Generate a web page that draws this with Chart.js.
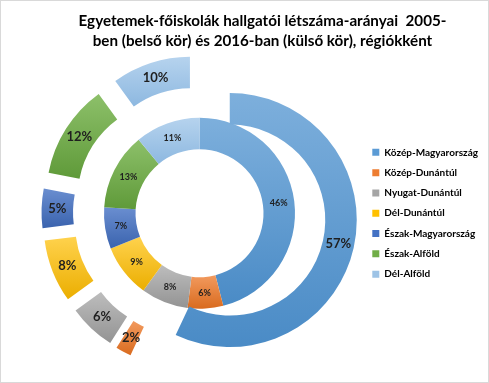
<!DOCTYPE html>
<html><head><meta charset="utf-8">
<script src="https://cdn.jsdelivr.net/npm/chart.js@4/dist/chart.umd.min.js"></script>
<style>
html,body{margin:0;padding:0;background:#fff;}
#wrap{position:relative;width:489px;height:383px;box-sizing:border-box;border:1px solid #d9d9d9;}
canvas{display:block;}
</style></head><body>
<div id="wrap"><canvas id="c" width="487" height="381"></canvas></div>
<script>
const regions = ['Közép-Magyarország','Közép-Dunántúl','Nyugat-Dunántúl','Dél-Dunántúl','Észak-Magyarország','Észak-Alföld','Dél-Alföld'];
const share2016 = [57, 2, 6, 8, 5, 12, 10];
const share2005 = [46, 6, 8, 9, 7, 13, 11];
const titleLines = ['Egyetemek-főiskolák hallgatói létszáma-arányai  2005-', 'ben (belső kör) és 2016-ban (külső kör), régiókként'];
const baseColors = ['#5B9BD5','#ED7D31','#A5A5A5','#FFC000','#4472C4','#70AD47','#9DC3E6'];
const topColors = ['#7DAFDC','#F29A5E','#BDBDBD','#FFD24D','#6A8ED0','#8DC06A','#B6D3EE'];
const bottomColors = ['#4A8BC6','#D96B1F','#939393','#EBAE00','#3A63AE','#5F9A39','#8DB8E0'];

const RADIUS = 127, CUTOUT = 64 / 127, EXPLODE = 31;

function gradFill(ctx) {
  const chart = ctx.chart, ca = chart.chartArea;
  const i = ctx.dataIndex;
  if (!ca || i === undefined) return baseColors[i || 0];
  const di = ctx.datasetIndex;
  const vals = chart.data.datasets[di].data;
  const total = vals.reduce((a, b) => a + b, 0);
  let before = 0; for (let k = 0; k < i; k++) before += vals[k];
  const a0 = -Math.PI / 2 + before / total * 2 * Math.PI;
  const a1 = a0 + vals[i] / total * 2 * Math.PI;
  const w = RADIUS * (1 - CUTOUT) / 2;
  const rOut = RADIUS - di * w, rIn = rOut - w;
  let cy = (ca.top + ca.bottom) / 2;
  if (di === 0) cy += Math.sin((a0 + a1) / 2) * EXPLODE;
  const ys = [];
  [a0, a1].forEach(a => { ys.push(cy + Math.sin(a) * rOut, cy + Math.sin(a) * rIn); });
  if (a0 < Math.PI / 2 && a1 > Math.PI / 2) ys.push(cy + rOut);
  const y0 = Math.min(...ys), y1 = Math.max(...ys);
  const g = chart.ctx.createLinearGradient(0, y0, 0, y1);
  g.addColorStop(0, topColors[i]);
  g.addColorStop(1, bottomColors[i]);
  return g;
}

const explode = {
  id: 'explode',
  afterDatasetUpdate(chart, args) {
    if (args.index !== 0) return;
    chart.getDatasetMeta(0).data.forEach(arc => {
      const m = (arc.startAngle + arc.endAngle) / 2;
      arc.x += Math.cos(m) * EXPLODE;
      arc.y += Math.sin(m) * EXPLODE;
    });
  }
};

const pctLabels = {
  id: 'pctLabels',
  afterDatasetsDraw(chart) {
    const c = chart.ctx;
    chart.data.datasets.forEach((ds, di) => {
      chart.getDatasetMeta(di).data.forEach((arc, i) => {
        const p = arc.tooltipPosition();
        c.save();
        c.font = di === 0 ? 'bold 13px Lato' : 'bold 9px Lato';
        c.fillStyle = '#1f1f1f';
        c.textAlign = 'center';
        c.textBaseline = 'middle';
        c.fillText(ds.data[i] + '%', p.x, p.y);
        c.restore();
      });
    });
  }
};

new Chart(document.getElementById('c'), {
  type: 'doughnut',
  data: {
    labels: regions,
    datasets: [
      { label: '2016', data: share2016, backgroundColor: gradFill, borderWidth: 0 },
      { label: '2005', data: share2005, backgroundColor: gradFill, borderWidth: 0 }
    ]
  },
  options: {
    responsive: false,
    animation: false,
    events: [],
    radius: RADIUS,
    cutout: (CUTOUT * 100) + '%',
    layout: { padding: { left: 36, right: 0, top: 0, bottom: 12 } },
    plugins: {
      tooltip: { enabled: false },
      title: {
        display: true,
        text: titleLines,
        color: '#000',
        font: { family: 'Lato', size: 15.2, weight: 'bold', lineHeight: 1.3 },
        padding: { top: 10, bottom: 6 }
      },
      legend: {
        position: 'right',
        fullSize: false,
        labels: {
          boxWidth: 7, boxHeight: 7, padding: 10.3,
          color: '#262626',
          font: { family: 'Lato', size: 10, weight: 'bold' },
          generateLabels: () => regions.map((t, i) => ({
            text: t, fillStyle: baseColors[i], strokeStyle: baseColors[i], lineWidth: 0, hidden: false, index: i
          }))
        }
      }
    }
  },
  plugins: [explode, pctLabels]
});
</script>
</body></html>
